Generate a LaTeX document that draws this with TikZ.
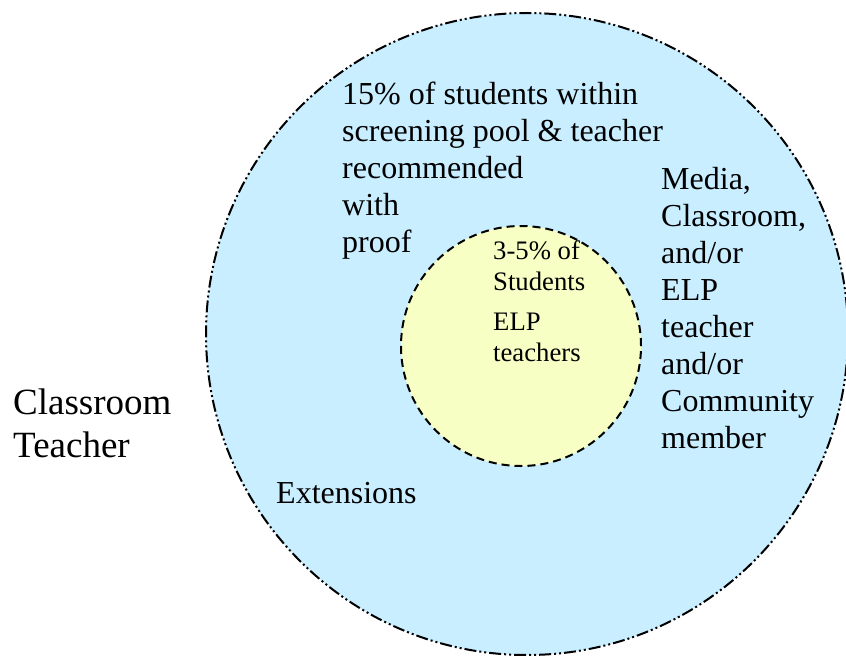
\documentclass[tikz,border=0pt]{standalone}
\usepackage{fontspec}
\setmainfont{Liberation Serif}
\usetikzlibrary{shapes}

\definecolor{poolblue}{RGB}{200,238,255}
\definecolor{coreyellow}{RGB}{247,255,196}

\begin{document}
\begin{tikzpicture}[
    x=1pt,y=-1pt,
	pool/.style={circle, draw, fill=poolblue, line width=2pt, minimum size=642pt, inner sep=0,
	    dash pattern=on 12pt off 3pt on 2pt off 3pt on 2pt off 3pt},
	core/.style={circle, draw, fill=coreyellow, line width=2pt, minimum size=240pt, inner sep=0,
	    dash pattern=on 8pt off 5pt},
	txt/.style={anchor=base west, align=left, inner sep=0, font=\fontsize{32}{37}\selectfont},
	smalltxt/.style={txt, font=\fontsize{26.7}{30.5}\selectfont}
]
\useasboundingbox (0,0) rectangle (846,658);

\node[pool] (pool) at (527,334) {};
\node[core] (core) at (521,346) {};

% text nodes sit on the baseline of their last line
\node[txt] (screen) at (342,252) {15\% of students within\\screening pool \& teacher\\recommended\\with\\proof};
\node[txt] (media) at (661,448) {Media,\\Classroom,\\and/or\\ELP\\teacher\\and/or\\Community\\member};
\node[txt] (ext) at (276,503) {Extensions};
\node[txt, font=\fontsize{37}{43}\selectfont] (ct) at (13,457) {Classroom\\Teacher};

\node[smalltxt] (pct) at (493,290) {3-5\% of\\Students};
\node[smalltxt] (elp) at (493,361) {ELP\\teachers};
\end{tikzpicture}
\end{document}
